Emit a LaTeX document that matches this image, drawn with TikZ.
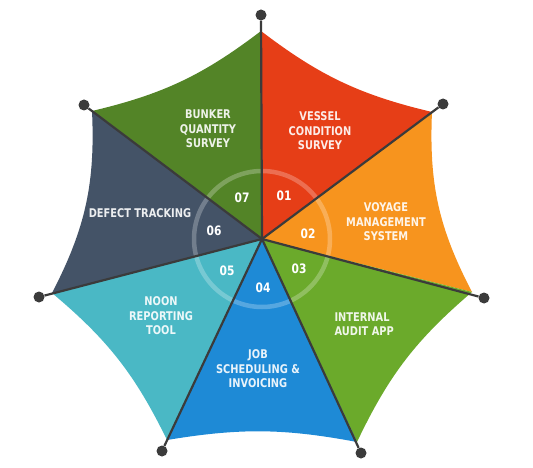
\documentclass[tikz,border=0pt]{standalone}
\usepackage{fontspec}
\setmainfont{DejaVu Sans}[FakeStretch=0.82]
\usepackage{tikz}
\usetikzlibrary{positioning}
\usepackage{xcolor}
\definecolor{vesselred}{HTML}{E63E17}
\definecolor{voyageorange}{HTML}{F7941E}
\definecolor{auditgreen}{HTML}{6BAA2B}
\definecolor{jobblue}{HTML}{1E8AD6}
\definecolor{noonteal}{HTML}{4AB8C5}
\definecolor{defectslate}{HTML}{445367}
\definecolor{bunkergreen}{HTML}{538427}
\definecolor{spokegray}{HTML}{3B3B3B}

\begin{document}
\begin{tikzpicture}[
    x=1pt, y=-1pt,
    spoke/.style={spokegray, line width=2.2pt},
    tip/.style={circle, fill=spokegray, inner sep=0pt, minimum size=11pt},
    itemtext/.style={font=\bfseries\fontsize{12}{14.5}\selectfont, text=white, text opacity=0.9, align=center},
    numtext/.style={font=\bfseries\fontsize{13}{15}\selectfont, text=white},
    ring/.style={white, opacity=0.25, line width=4.5pt}
]
    \useasboundingbox (0,0) rectangle (533,468);

    \coordinate (o) at (262,239);
    \coordinate (c1) at (261,31);
    \coordinate (c2) at (432,112);
    \coordinate (c3) at (472,292);
    \coordinate (c4) at (357,442);
    \coordinate (c5) at (167,440);
    \coordinate (c6) at (52,293);
    \coordinate (c7) at (92,111);

    % umbrella panels
    \fill[vesselred] (o) -- (c1) to[bend right=12] (c2) -- cycle;
    \fill[voyageorange] (o) -- (c2) to[bend right=15] (c3) -- cycle;
    \fill[auditgreen] (o) -- (c3) to[bend right=12] (c4) -- cycle;
    \fill[jobblue] (o) -- (c4) to[bend right=10] (c5) -- cycle;
    \fill[noonteal] (o) -- (c5) to[bend right=12] (c6) -- cycle;
    \fill[defectslate] (o) -- (c6) to[bend right=15] (c7) -- cycle;
    \fill[bunkergreen] (o) -- (c7) to[bend right=12] (c1) -- cycle;

    \draw[ring] (o) circle[radius=68pt];

    \node[tip] (d1) at (261,15) {};
    \node[tip] (d2) at (443,104) {};
    \node[tip] (d3) at (484,298) {};
    \node[tip] (d4) at (361,453) {};
    \node[tip] (d5) at (162,451) {};
    \node[tip] (d6) at (39,297) {};
    \node[tip] (d7) at (84,105) {};

    \draw[spoke] (o) -- (d1);
    \draw[spoke] (o) -- (d2);
    \draw[spoke] (o) -- (d3);
    \draw[spoke] (o) -- (d4);
    \draw[spoke] (o) -- (d5);
    \draw[spoke] (o) -- (d6);
    \draw[spoke] (o) -- (d7);

    \node[numtext] (n1) at (284,196) {01};
    \node[numtext] (n2) at (308,234) {02};
    \node[numtext] (n3) at (299,269) {03};
    \node[numtext] (n4) at (263,288) {04};
    \node[numtext] (n5) at (227,271) {05};
    \node[numtext] (n6) at (214,231) {06};
    \node[numtext] (n7) at (242,198) {07};

    \node[itemtext] (vessel) at (320,131) {VESSEL\\CONDITION\\SURVEY};
    \node[itemtext] (voyage) at (386,222) {VOYAGE\\MANAGEMENT\\SYSTEM};
    \node[itemtext, align=left, anchor=west] (audit) at (331,324) {INTERNAL\\AUDIT APP};
    \node[itemtext] (job) at (258,369) {JOB\\SCHEDULING \&\\INVOICING};
    \node[itemtext] (noon) at (161,316) {NOON\\REPORTING\\TOOL};
    \node[itemtext] (defect) at (140,213) {DEFECT TRACKING};
    \node[itemtext] (bunker) at (208,129) {BUNKER\\QUANTITY\\SURVEY};
\end{tikzpicture}
\end{document}
